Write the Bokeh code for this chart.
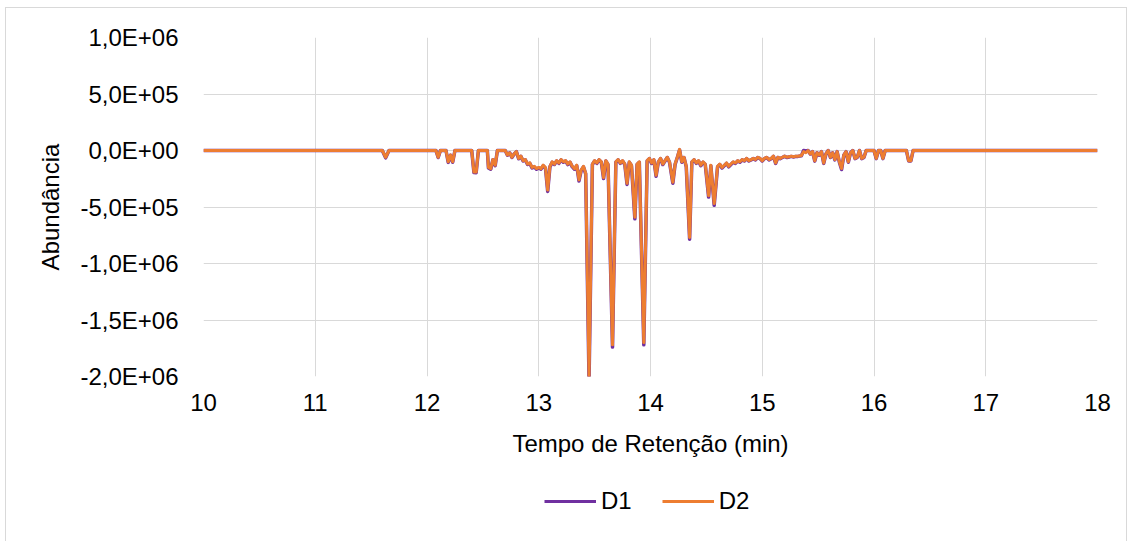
from bokeh.plotting import figure
from bokeh.layouts import column
from bokeh.models import Range1d, FixedTicker, Legend, LegendItem
from bokeh.embed import file_html
from bokeh.resources import INLINE

# Retention time (min)
rt_min = [
    10.00, 11.60, 11.63, 11.66, 12.08, 12.10, 12.12, 12.17, 12.19, 12.21,
    12.23, 12.25, 12.40, 12.42, 12.44, 12.46, 12.54, 12.55, 12.57, 12.59,
    12.61, 12.63, 12.70, 12.72, 12.74, 12.76, 12.78, 12.80, 12.82, 12.84,
    12.86, 12.88, 12.90, 12.92, 12.94, 12.96, 12.98, 13.00, 13.02, 13.04,
    13.06, 13.08, 13.10, 13.12, 13.14, 13.16, 13.18, 13.20, 13.22, 13.24,
    13.26, 13.28, 13.30, 13.32, 13.34, 13.36, 13.38, 13.40, 13.42, 13.45,
    13.48, 13.50, 13.52, 13.54, 13.56, 13.58, 13.60, 13.62, 13.66, 13.69,
    13.71, 13.73, 13.75, 13.77, 13.79, 13.81, 13.83, 13.86, 13.88, 13.90,
    13.94, 13.97, 13.99, 14.01, 14.03, 14.05, 14.07, 14.09, 14.11, 14.13,
    14.15, 14.17, 14.20, 14.22, 14.24, 14.26, 14.28, 14.30, 14.32, 14.35,
    14.37, 14.39, 14.41, 14.43, 14.45, 14.47, 14.49, 14.52, 14.54, 14.57,
    14.60, 14.62, 14.64, 14.66, 14.68, 14.70, 14.72, 14.74, 14.76, 14.78,
    14.80, 14.82, 14.84, 14.86, 14.88, 14.90, 14.92, 14.94, 14.96, 14.98,
    15.00, 15.02, 15.04, 15.06, 15.08, 15.10, 15.12, 15.14, 15.16, 15.18,
    15.20, 15.22, 15.24, 15.26, 15.28, 15.30, 15.32, 15.35, 15.37, 15.39,
    15.41, 15.43, 15.45, 15.47, 15.49, 15.51, 15.53, 15.55, 15.57, 15.59,
    15.61, 15.63, 15.65, 15.67, 15.69, 15.71, 15.73, 15.75, 15.77, 15.79,
    15.81, 15.83, 15.85, 15.87, 15.89, 15.91, 15.93, 16.00, 16.02, 16.04,
    16.06, 16.08, 16.10, 16.29, 16.31, 16.33, 16.35, 18.00,
]

# Abundance, sample D1
d1 = [
    0, 0, -65000, 0, 0, -62000, 0, 0, -105000, -42000,
    -104000, 0, 0, -195000, -196000, 0, 0, -155000, -166000, -82000,
    -134000, 0, 0, -42000, -20000, -62000, -31000, -10000, -73000, -52000,
    -93000, -83000, -124000, -114000, -155000, -145000, -166000, -155000, -165000, -135000,
    -156000, -362000, -145000, -104000, -124000, -93000, -114000, -83000, -104000, -93000,
    -125000, -104000, -145000, -166000, -135000, -270000, -176000, -145000, -207000, -2040000,
    -124000, -93000, -114000, -83000, -104000, -248000, -93000, -125000, -1740000, -104000,
    -83000, -114000, -93000, -124000, -300000, -104000, -135000, -605000, -124000, -104000,
    -1720000, -93000, -72000, -114000, -83000, -228000, -104000, -72000, -124000, -93000,
    -62000, -104000, -290000, -124000, -62000, 5000, -104000, -62000, -145000, -785000,
    -104000, -83000, -114000, -93000, -135000, -104000, -124000, -412000, -135000, -485000,
    -145000, -124000, -155000, -135000, -114000, -145000, -124000, -104000, -114000, -93000,
    -104000, -83000, -93000, -72000, -93000, -83000, -72000, -83000, -62000, -72000,
    -93000, -72000, -62000, -83000, -72000, -52000, -114000, -62000, -72000, -62000,
    -52000, -62000, -57000, -52000, -57000, -52000, -52000, -47000, 0, -5000,
    0, -31000, -10000, -94000, -20000, -42000, -10000, -114000, -31000, 0,
    -62000, -20000, -83000, -10000, -104000, -168000, -42000, -10000, -104000, -20000,
    0, -72000, -62000, 0, -72000, -62000, 0, 0, -72000, 0,
    0, -72000, 0, 0, -93000, -93000, 0, 0,
]

# Abundance, sample D2
d2 = [
    0, 0, -60000, 0, 0, -60000, 0, 0, -100000, -40000,
    -100000, 0, 0, -190000, -190000, 0, 0, -150000, -160000, -80000,
    -130000, 0, 0, -40000, -20000, -60000, -30000, -10000, -70000, -50000,
    -90000, -80000, -120000, -110000, -150000, -140000, -160000, -150000, -160000, -130000,
    -150000, -350000, -140000, -100000, -120000, -90000, -110000, -80000, -100000, -90000,
    -120000, -100000, -140000, -160000, -130000, -260000, -170000, -140000, -200000, -2000000,
    -120000, -90000, -110000, -80000, -100000, -240000, -90000, -120000, -1720000, -100000,
    -80000, -110000, -90000, -120000, -290000, -100000, -130000, -590000, -120000, -100000,
    -1700000, -90000, -70000, -110000, -80000, -220000, -100000, -70000, -120000, -90000,
    -60000, -100000, -280000, -120000, -60000, 10000, -100000, -60000, -140000, -770000,
    -100000, -80000, -110000, -90000, -130000, -100000, -120000, -400000, -130000, -470000,
    -140000, -120000, -150000, -130000, -110000, -140000, -120000, -100000, -110000, -90000,
    -100000, -80000, -90000, -70000, -90000, -80000, -70000, -80000, -60000, -70000,
    -90000, -70000, -60000, -80000, -70000, -50000, -110000, -60000, -70000, -60000,
    -50000, -60000, -55000, -50000, -55000, -50000, -50000, -45000, -10000, -20000,
    0, -30000, -10000, -90000, -20000, -40000, -10000, -110000, -30000, 0,
    -60000, -20000, -80000, -10000, -100000, -160000, -40000, -10000, -100000, -20000,
    0, -70000, -60000, 0, -70000, -60000, 0, 0, -70000, 0,
    0, -70000, 0, 0, -90000, -90000, 0, 0,
]

series_names = ["D1", "D2"]
series_colors = ["#7030A0", "#ED7D31"]
series_widths = [3.5, 3]

x_ticks = [10, 11, 12, 13, 14, 15, 16, 17, 18]
y_ticks = [-2000000, -1500000, -1000000, -500000, 0, 500000, 1000000]
y_tick_labels = ["-2,0E+06", "-1,5E+06", "-1,0E+06", "-5,0E+05",
                 "0,0E+00", "5,0E+05", "1,0E+06"]

FONT = "Liberation Sans"
FONT_SIZE = "24px"
GRID = "#D9D9D9"
CHART_W = 1120

# Main chromatogram panel
p = figure(
    width=CHART_W, height=458,
    x_range=Range1d(10, 18), y_range=Range1d(-2000000, 1000000),
    output_backend="svg", toolbar_location=None,
    min_border_left=197, min_border_right=29,
    min_border_top=29, min_border_bottom=90,
)
p.outline_line_color = None
p.background_fill_color = "white"
p.border_fill_color = "white"

p.xaxis.ticker = FixedTicker(ticks=x_ticks)
p.yaxis.ticker = FixedTicker(ticks=y_ticks)
p.yaxis.major_label_overrides = {v: s for v, s in zip(y_ticks, y_tick_labels)}

for ax in (p.xaxis, p.yaxis):
    ax.axis_line_color = None
    ax.major_tick_line_color = None
    ax.minor_tick_line_color = None
    ax.major_tick_out = 0
    ax.major_tick_in = 0
    ax.minor_tick_out = 0
    ax.minor_tick_in = 0
    ax.major_label_text_font = FONT
    ax.major_label_text_font_size = FONT_SIZE
    ax.major_label_text_color = "#000000"
    ax.axis_label_text_font = FONT
    ax.axis_label_text_font_size = FONT_SIZE
    ax.axis_label_text_font_style = "normal"
    ax.axis_label_text_color = "#000000"

p.xaxis.axis_label = "Tempo de Retenção (min)"
p.yaxis.axis_label = "Abundância"
p.xaxis.major_label_standoff = 17
p.xaxis.axis_label_standoff = 16
p.yaxis.major_label_standoff = 25
p.yaxis.axis_label_standoff = 13

p.xgrid.grid_line_color = GRID
p.ygrid.grid_line_color = GRID
p.xgrid.grid_line_width = 1
p.ygrid.grid_line_width = 1

for ys, color, w in zip([d1, d2], series_colors, series_widths):
    p.line(rt_min, ys, line_color=color, line_width=w, line_join="round")

# Legend strip under the axis title
leg = figure(
    width=CHART_W, height=75,
    x_range=Range1d(0, 1), y_range=Range1d(0, 1),
    output_backend="svg", toolbar_location=None,
    min_border=0,
)
leg.axis.visible = False
leg.grid.visible = False
leg.outline_line_color = None
leg.border_fill_color = "white"

# key swatches: single NaN point, nothing is plotted, only the legend glyph
key_renderers = [
    leg.line([float("nan")], [float("nan")], line_color=c, line_width=3)
    for c in series_colors
]
legend = Legend(
    items=[LegendItem(label=n, renderers=[r]) for n, r in zip(series_names, key_renderers)],
    orientation="horizontal",
    location=(341, 26),
    glyph_width=52, glyph_height=20,
    label_standoff=5, spacing=30,
    label_text_font=FONT, label_text_font_size=FONT_SIZE,
    label_text_color="#000000",
    border_line_color=None, background_fill_alpha=0,
    padding=10, margin=0,
)
leg.add_layout(legend, "center")

chart = column(p, leg, spacing=0)
chart.margin = (7, 0, 0, 5)
chart.styles = {"border": "1px solid #D9D9D9"}

open("out.html", "w").write(file_html(chart, INLINE))
